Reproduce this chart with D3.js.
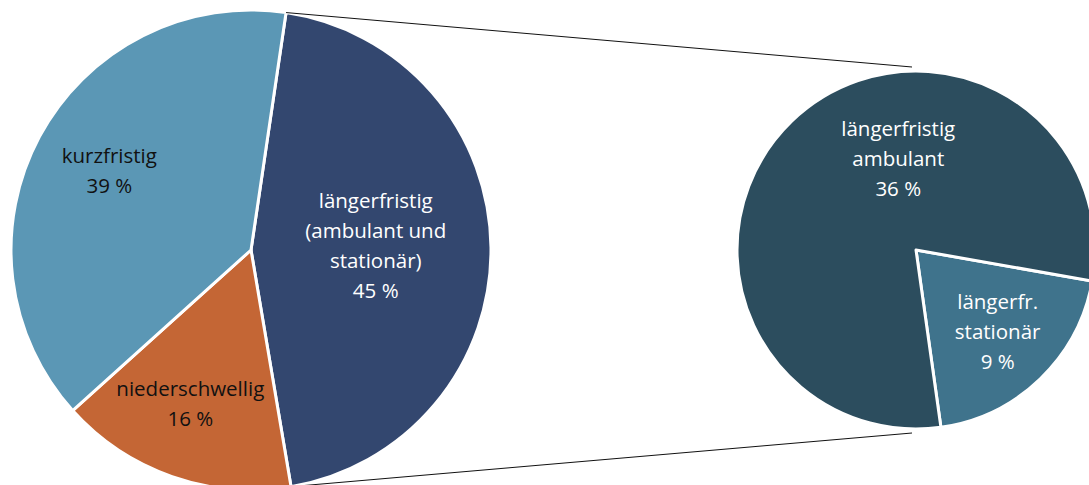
<!DOCTYPE html>
<html>
<head>
<meta charset="utf-8">
<script src="https://cdn.jsdelivr.net/npm/d3@7"></script>
<style>
  body { margin: 0; background: #fff; }
  svg { display: block; }
  text { font-family: "Open Sans", "Noto Sans", sans-serif; font-size: 20.5px; }
</style>
</head>
<body>
<div id="chart"></div>
<script>
// main pie
var mainLabels = [["längerfristig", "(ambulant und", "stationär)"], ["niederschwellig"], ["kurzfristig"]];
var mainValues = [45, 16, 39];
var mainColors = ["#33476f", "#c46635", "#5b97b5"];
var mainText   = ["#fff", "#111", "#111"];

// detail pie (split of "längerfristig")
var subLabels = [["längerfr.", "stationär"], ["längerfristig", "ambulant"]];
var subValues = [9, 36];
var subColors = ["#3f738c", "#2c4d5e"];

var width = 1089, height = 485;

var svg = d3.select("#chart").append("svg")
    .attr("width", width)
    .attr("height", height);

var deg = Math.PI / 180;

// layout
var c1 = {x: 251, y: 250, r: 240, start: 8.4 * deg};
var c2 = {x: 916, y: 250, r: 179, start: 100 * deg};

// label placement in polar terms (angle in degrees, fraction of radius)
var mainLabelPos = [{a: 88, k: 0.52}, {a: 201.5, k: 0.69}, {a: 299, k: 0.675}];
var subLabelPos  = [{a: 135, k: 0.645}, {a: 349, k: 0.52}];

function drawPie(c, values, colors, labels, textColors, labelPos) {
  var pie = d3.pie().sort(null)
      .startAngle(c.start)
      .endAngle(c.start + 2 * Math.PI);
  var arc = d3.arc().innerRadius(0).outerRadius(c.r);
  var arcs = pie(values);

  var g = svg.append("g")
      .attr("transform", "translate(" + c.x + "," + c.y + ")");

  g.selectAll("path")
    .data(arcs)
    .enter().append("path")
      .attr("d", arc)
      .attr("fill", function(d, i) { return colors[i]; })
      .attr("stroke", "#fff")
      .attr("stroke-width", 3)
      .attr("stroke-linejoin", "round");

  var lab = g.selectAll("text.lab")
    .data(arcs)
    .enter().append("text")
      .attr("class", "lab")
      .attr("text-anchor", "middle")
      .attr("fill", function(d, i) { return textColors[i]; })
      .attr("transform", function(d, i) {
        var p = labelPos[i], a = p.a * deg, rr = p.k * c.r;
        return "translate(" + (rr * Math.sin(a)) + "," + (-rr * Math.cos(a)) + ")";
      });

  lab.each(function(d, i) {
    var lines = labels[i].concat([d.data + " %"]);
    var n = lines.length;
    d3.select(this).selectAll("tspan")
      .data(lines)
      .enter().append("tspan")
        .attr("x", 0)
        .attr("y", function(t, j) { return (j - (n - 1) / 2) * 30 + 7; })
        .text(function(t) { return t; });
  });

  return arcs;
}

var mainArcs = drawPie(c1, mainValues, mainColors, mainLabels, mainText, mainLabelPos);
drawPie(c2, subValues, subColors, subLabels, ["#fff", "#fff"], subLabelPos);

// connector lines from the split slice to the detail pie
var split = mainArcs[0];
function onRim(c, a) { return [c.x + c.r * Math.sin(a), c.y - c.r * Math.cos(a)]; }
var connectors = [
  [onRim(c1, split.startAngle), [c2.x - 4, c2.y - c2.r - 4]],
  [onRim(c1, split.endAngle),   [c2.x - 4, c2.y + c2.r + 4]]
];

svg.selectAll("line.conn")
  .data(connectors)
  .enter().append("line")
    .attr("class", "conn")
    .attr("x1", function(d) { return d[0][0]; })
    .attr("y1", function(d) { return d[0][1]; })
    .attr("x2", function(d) { return d[1][0]; })
    .attr("y2", function(d) { return d[1][1]; })
    .attr("stroke", "#111")
    .attr("stroke-width", 1);
</script>
</body>
</html>
